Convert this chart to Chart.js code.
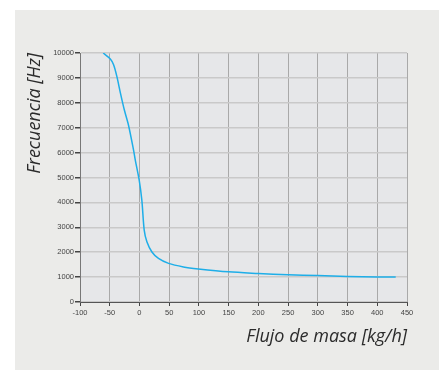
<!DOCTYPE html>
<html>
<head>
<meta charset="utf-8">
<script src="https://cdn.jsdelivr.net/npm/chart.js@4"></script>
<style>
  html, body { margin: 0; padding: 0; background: #ffffff; }
  #panel { position: absolute; left: 15px; top: 10px; width: 424px; height: 360px; background: #ebebe9; }
</style>
</head>
<body>
<div id="panel"><canvas id="flowChart" width="424" height="360"></canvas></div>
<script>
// mass flow [kg/h] vs frequency [Hz]
const massFlow = [-61, -49, -43.5, -38, -32, -25.5, -18.5, -10, -7, -0.5, 4, 8, 12.5, 21, 32, 49, 74, 99, 150, 200, 250, 300, 350, 400, 431];
const frequency = [10000, 9760, 9530, 9060, 8390, 7720, 7110, 6110, 5700, 4900, 4090, 2890, 2420, 2010, 1750, 1550, 1410, 1330, 1210, 1145, 1090, 1060, 1025, 1005, 1000];

const xTicks = [-100, -50, 0, 50, 100, 150, 200, 250, 300, 350, 400, 450];
const yTicks = [0, 1000, 2000, 3000, 4000, 5000, 6000, 7000, 8000, 9000, 10000];

const titleFont = { family: 'Open Sans', size: 18, style: 'italic', weight: 400 };
const tickFont = { family: 'Liberation Sans', size: 7.5 };

// fill plot area
const plotBg = {
    id: 'plotBg',
    beforeDraw(chart) {
        const { ctx, chartArea: a } = chart;
        ctx.save();
        ctx.fillStyle = '#e6e7e9';
        ctx.fillRect(a.left, a.top, a.right - a.left, a.bottom - a.top);
        ctx.restore();
    }
};

const ctx = document.getElementById('flowChart').getContext('2d');
const chart = new Chart(ctx, {
    type: 'scatter',
    data: {
        datasets: [{
            data: massFlow.map((x, i) => ({ x: x, y: frequency[i] })),
            showLine: true,
            borderColor: '#1eaee8',
            borderWidth: 1.5,
            pointRadius: 0,
            tension: 0.3
        }]
    },
    options: {
        responsive: false,
        animation: false,
        layout: { padding: { left: 0, right: 32, top: 43, bottom: 0 } },
        plugins: { legend: { display: false }, tooltip: { enabled: false } },
        scales: {
            x: {
                type: 'linear',
                min: -100,
                max: 450,
                afterBuildTicks: s => { s.ticks = xTicks.map(v => ({ value: v })); },
                afterFit: s => { s.height = 68; },
                grid: { color: '#a9a9a9', lineWidth: 1, tickLength: 4, tickColor: '#444' },
                border: { color: '#555', width: 1 },
                ticks: { font: tickFont, color: '#444', padding: 2, maxRotation: 0, callback: v => String(v) },
                title: { display: true, text: 'Flujo de masa [kg/h]', align: 'end', color: '#2b2b2b', font: titleFont, padding: { top: 0, bottom: 22 } }
            },
            y: {
                type: 'linear',
                min: 0,
                max: 10000,
                afterBuildTicks: s => { s.ticks = yTicks.map(v => ({ value: v })); },
                afterFit: s => { s.width = 65; },
                grid: { color: '#c9c9c9', lineWidth: 1.5, tickLength: 5, tickColor: '#444' },
                border: { color: '#777', width: 1 },
                ticks: { font: tickFont, color: '#444', padding: 1, callback: v => String(v) },
                title: { display: true, text: 'Frecuencia [Hz]', align: 'end', color: '#2b2b2b', font: titleFont, padding: { top: 9, bottom: 0 } }
            }
        }
    },
    plugins: [plotBg]
});
</script>
</body>
</html>
